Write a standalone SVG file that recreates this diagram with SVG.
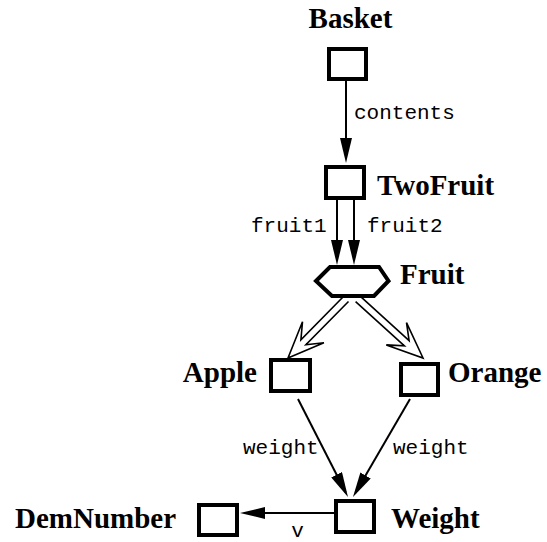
<svg xmlns="http://www.w3.org/2000/svg" width="547" height="542" viewBox="0 0 547 542">
<style>
.node{fill:#fff;stroke:#000;stroke-width:4}
.lbl{font-family:"Liberation Serif","Times New Roman",serif;font-weight:bold;font-size:29px;fill:#000}
.role{font-family:"Liberation Mono","Courier New",monospace;font-size:21px;fill:#000}
.edge{stroke:#000;stroke-width:2;fill:none}
.isa{stroke:#000;stroke-width:1.6;fill:none;stroke-linejoin:miter}
</style>
<defs>
<marker id="ah" viewBox="0 0 25 12" refX="20" refY="6" markerWidth="25" markerHeight="12" markerUnits="userSpaceOnUse" orient="auto">
<path d="M0,0 L25,6 L0,12 z" fill="#000"/>
</marker>
</defs>
<rect width="547" height="542" fill="#fff"/>
<g id="connectors">
<line class="edge" x1="346" y1="81" x2="346" y2="158" marker-end="url(#ah)"/>
<line class="edge" x1="337" y1="200" x2="337" y2="260" marker-end="url(#ah)"/>
<line class="edge" x1="354" y1="200" x2="354" y2="260" marker-end="url(#ah)"/>
<polyline class="isa" points="343.5,296.5 300.9,339.9 302.5,321.8 288,358 323.9,342.8 305.9,344.8 348.5,301.5"/>
<polyline class="isa" points="360.4,296.4 409.1,340.6 406.5,322.7 423,358 386.3,344.9 404.4,345.8 355.6,301.6"/>
<line class="edge" x1="298" y1="399" x2="345.7" y2="492.5" marker-end="url(#ah)"/>
<line class="edge" x1="410" y1="399" x2="355.5" y2="492.7" marker-end="url(#ah)"/>
<line class="edge" x1="334" y1="513" x2="245" y2="513" marker-end="url(#ah)"/>
<text class="role" x="354" y="119">contents</text>
<text class="role" x="251" y="232">fruit1</text>
<text class="role" x="367" y="232">fruit2</text>
<text class="role" x="243" y="454">weight</text>
<text class="role" x="393" y="454">weight</text>
<text class="role" x="297.5" y="537" text-anchor="middle">v</text>
</g>
<g id="Basket">
<rect class="node" x="329" y="49" width="37" height="30"/>
<text class="lbl" x="350.5" y="28" text-anchor="middle">Basket</text>
</g>
<g id="TwoFruit">
<rect class="node" x="326" y="167" width="38" height="31"/>
<text class="lbl" x="377" y="195">TwoFruit</text>
</g>
<g id="Fruit">
<polygon class="node" points="316,281 330,267 379,267 388.5,281 374,296 332,296"/>
<text class="lbl" x="400" y="284">Fruit</text>
</g>
<g id="Apple">
<rect class="node" x="271" y="360" width="39" height="31"/>
<text class="lbl" x="257" y="382" text-anchor="end">Apple</text>
</g>
<g id="Orange">
<rect class="node" x="401" y="364" width="37" height="31"/>
<text class="lbl" x="448" y="382">Orange</text>
</g>
<g id="Weight">
<rect class="node" x="336" y="501" width="38" height="31"/>
<text class="lbl" x="391" y="528">Weight</text>
</g>
<g id="DemNumber">
<rect class="node" x="199" y="505" width="38" height="30"/>
<text class="lbl" x="15" y="528">DemNumber</text>
</g>
</svg>
